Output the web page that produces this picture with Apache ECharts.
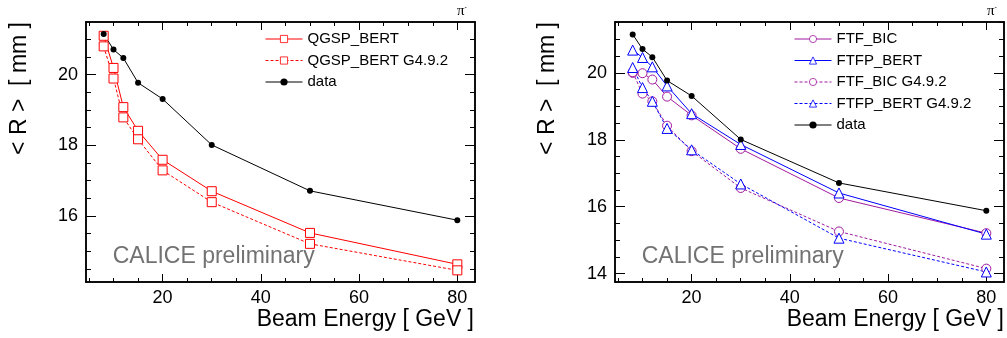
<!DOCTYPE html>
<html>
<head>
<meta charset="utf-8">
<script src="https://cdn.jsdelivr.net/npm/echarts@6/dist/echarts.min.js"></script>
<style>html,body{margin:0;padding:0;background:#fff}#c{width:1007px;height:338px}</style>
</head>
<body>
<div id="c"></div>
<script>
// ---- data ----
const energies = [8, 10, 12, 15, 20, 30, 50, 80];
const dataR = [21.15, 20.71, 20.47, 19.77, 19.31, 18.01, 16.71, 15.88];
const qgspBert = [21.10, 20.19, 19.08, 18.41, 17.59, 16.70, 15.52, 14.63];
const qgspBert492 = [20.80, 19.89, 18.79, 18.17, 17.29, 16.39, 15.21, 14.46];
const ftfBic = [20.00, 19.99, 19.80, 19.29, 18.73, 17.73, 16.26, 15.21];
const ftfpBert = [20.68, 20.46, 20.18, 19.61, 18.78, 17.86, 16.41, 15.18];
const ftfBic492 = [20.02, 19.38, 19.15, 18.42, 17.66, 16.56, 15.26, 14.15];
const ftfpBert492 = [20.16, 19.56, 19.15, 18.34, 17.70, 16.68, 15.06, 14.05];
const xMajorTicks = [20, 40, 60, 80];
const xMinorTicks = [5, 10, 15, 25, 30, 35, 45, 50, 55, 65, 70, 75];
const yMajorLeft = [16, 18, 20];
const yMajorRight = [14, 16, 18, 20];
const yMinorStep = 0.5;

// ---- layout / style ----
const FONT = 'Liberation Sans, Arial, Helvetica, sans-serif';
const RED = '#ff0000', BLUE = '#0000ff', MAG = '#a0199f';
const X_RANGE = [4.4, 83.6];
const Y_LEFT = [14.13, 21.49];
const Y_RIGHT = [13.75, 21.52];

function minorVals(r, majors) {
  const out = [];
  for (let v = Math.ceil(r[0] / yMinorStep) * yMinorStep; v <= r[1] + 1e-9; v += yMinorStep) {
    const vv = Math.round(v * 100) / 100;
    if (majors.indexOf(vv) < 0) out.push(vv);
  }
  return out;
}
function pairs(vals) { return energies.map((e, i) => [e, vals[i]]); }

const xAxes = [], yAxes = [];
function addAxes(grid, yr, yMaj) {
  const base = { type: 'value', gridIndex: grid, min: X_RANGE[0], max: X_RANGE[1], splitLine: { show: false } };
  const line = { show: true, onZero: false, lineStyle: { color: '#000', width: 1.5 } };
  const xi = xAxes.length;
  xAxes.push(Object.assign({}, base, { position: 'bottom', axisLine: line,
    axisTick: { inside: true, length: 8, customValues: xMajorTicks, lineStyle: { color: '#000', width: 1 } },
    axisLabel: { customValues: xMajorTicks, color: '#000', fontSize: 18, fontFamily: FONT, margin: 7 } }));
  xAxes.push(Object.assign({}, base, { position: 'bottom', axisLine: line,
    axisTick: { inside: true, length: 4, customValues: xMinorTicks, lineStyle: { color: '#000', width: 1 } },
    axisLabel: { show: false } }));
  xAxes.push(Object.assign({}, base, { position: 'top', axisLine: line,
    axisTick: { inside: true, length: 8, customValues: xMajorTicks, lineStyle: { color: '#000', width: 1 } },
    axisLabel: { show: false } }));
  xAxes.push(Object.assign({}, base, { position: 'top', axisLine: line,
    axisTick: { inside: true, length: 4, customValues: xMinorTicks, lineStyle: { color: '#000', width: 1 } },
    axisLabel: { show: false } }));
  const ybase = { type: 'value', gridIndex: grid, min: yr[0], max: yr[1], splitLine: { show: false } };
  const yMin = minorVals(yr, yMaj);
  const yi = yAxes.length;
  yAxes.push(Object.assign({}, ybase, { position: 'left', axisLine: line,
    axisTick: { inside: true, length: 10, customValues: yMaj, lineStyle: { color: '#000', width: 1 } },
    axisLabel: { customValues: yMaj, color: '#000', fontSize: 18, fontFamily: FONT, margin: 8 } }));
  yAxes.push(Object.assign({}, ybase, { position: 'left', axisLine: line,
    axisTick: { inside: true, length: 5, customValues: yMin, lineStyle: { color: '#000', width: 1 } },
    axisLabel: { show: false } }));
  yAxes.push(Object.assign({}, ybase, { position: 'right', axisLine: line,
    axisTick: { inside: true, length: 10, customValues: yMaj, lineStyle: { color: '#000', width: 1 } },
    axisLabel: { show: false } }));
  yAxes.push(Object.assign({}, ybase, { position: 'right', axisLine: line,
    axisTick: { inside: true, length: 5, customValues: yMin, lineStyle: { color: '#000', width: 1 } },
    axisLabel: { show: false } }));
  return [xi, yi];
}
const [lx, ly] = addAxes(0, Y_LEFT, yMajorLeft);
const [rx, ry] = addAxes(1, Y_RIGHT, yMajorRight);

function ser(name, vals, xi, yi, color, symbol, size, dashed, hollow) {
  return {
    name, type: 'line', xAxisIndex: xi, yAxisIndex: yi, data: pairs(vals),
    symbol, symbolSize: size, silent: true,
    lineStyle: { color, width: 1, type: dashed ? [3, 2] : 'solid' },
    itemStyle: hollow ? { color: '#fff', borderColor: color, borderWidth: 1 } : { color, borderWidth: 0 },
    emphasis: { disabled: true }
  };
}

const series = [
  ser('QGSP_BERT', qgspBert, lx, ly, RED, 'rect', 9, false, true),
  ser('QGSP_BERT G4.9.2', qgspBert492, lx, ly, RED, 'rect', 9, true, true),
  ser('data', dataR, lx, ly, '#000', 'circle', 6, false, false),
  ser('FTF_BIC', ftfBic, rx, ry, MAG, 'circle', 9, false, true),
  ser('FTFP_BERT', ftfpBert, rx, ry, BLUE, 'triangle', 10, false, true),
  ser('FTF_BIC G4.9.2', ftfBic492, rx, ry, MAG, 'circle', 9, true, true),
  ser('FTFP_BERT G4.9.2', ftfpBert492, rx, ry, BLUE, 'triangle', 10, true, true),
  ser('data', dataR, rx, ry, '#000', 'circle', 6, false, false)
];

const legendBase = {
  orient: 'vertical', top: 31, itemWidth: 37, itemHeight: 9, itemGap: 5.5, padding: 0,
  selectedMode: false,
  lineStyle: { width: 1 },
  itemStyle: { borderWidth: 0.8 },
  textStyle: { fontSize: 15, lineHeight: 16, fontFamily: FONT, color: '#000' }
};

function txt(text, x, y, opts) {
  return Object.assign({ type: 'text', x, y, silent: true,
    style: Object.assign({ text, fontSize: 23, fontFamily: FONT, fill: '#000', align: 'left', verticalAlign: 'middle' }, opts.style || {}) },
    opts.el || {});
}

const option = {
  animation: false,
  backgroundColor: '#fff',
  grid: [
    { left: 86, top: 22, width: 389, height: 260 },
    { left: 615, top: 22, width: 389, height: 260 }
  ],
  xAxis: xAxes,
  yAxis: yAxes,
  legend: [
    Object.assign({}, legendBase, { left: 265, data: ['QGSP_BERT', 'QGSP_BERT G4.9.2', 'data'] }),
    Object.assign({}, legendBase, { left: 794, data: ['FTF_BIC', 'FTFP_BERT', 'FTF_BIC G4.9.2', 'FTFP_BERT G4.9.2', 'data'] })
  ],
  series,
  graphic: [
    txt('Beam Energy [ GeV ]', 474, 320, { style: { align: 'right' } }),
    txt('Beam Energy [ GeV ]', 1004, 320, { style: { align: 'right' } }),
    txt('< R >  [ mm ]', 20, 22, { style: { align: 'right' }, el: { rotation: Math.PI / 2 } }),
    txt('< R >  [ mm ]', 548, 22, { style: { align: 'right' }, el: { rotation: Math.PI / 2 } }),
    txt('CALICE preliminary', 112.7, 256.7, { style: { fill: '#727272' } }),
    txt('CALICE preliminary', 641.7, 256.7, { style: { fill: '#727272' } }),
    { type: 'text', x: 462, y: 11, silent: true, style: { text: '{a|π}{b|-}', align: 'center', verticalAlign: 'middle',
      rich: { a: { fontFamily: 'Liberation Serif, DejaVu Serif, serif', fontSize: 15, fill: '#000' },
              b: { fontSize: 7, fontFamily: FONT, fill: '#000', verticalAlign: 'top', padding: [0, 0, 8, 0] } } } },
    { type: 'text', x: 992, y: 11, silent: true, style: { text: '{a|π}{b|-}', align: 'center', verticalAlign: 'middle',
      rich: { a: { fontFamily: 'Liberation Serif, DejaVu Serif, serif', fontSize: 15, fill: '#000' },
              b: { fontSize: 7, fontFamily: FONT, fill: '#000', verticalAlign: 'top', padding: [0, 0, 8, 0] } } } }
  ]
};

const chart = echarts.init(document.getElementById('c'), null, { renderer: 'canvas' });
chart.setOption(option);
</script>
</body>
</html>
